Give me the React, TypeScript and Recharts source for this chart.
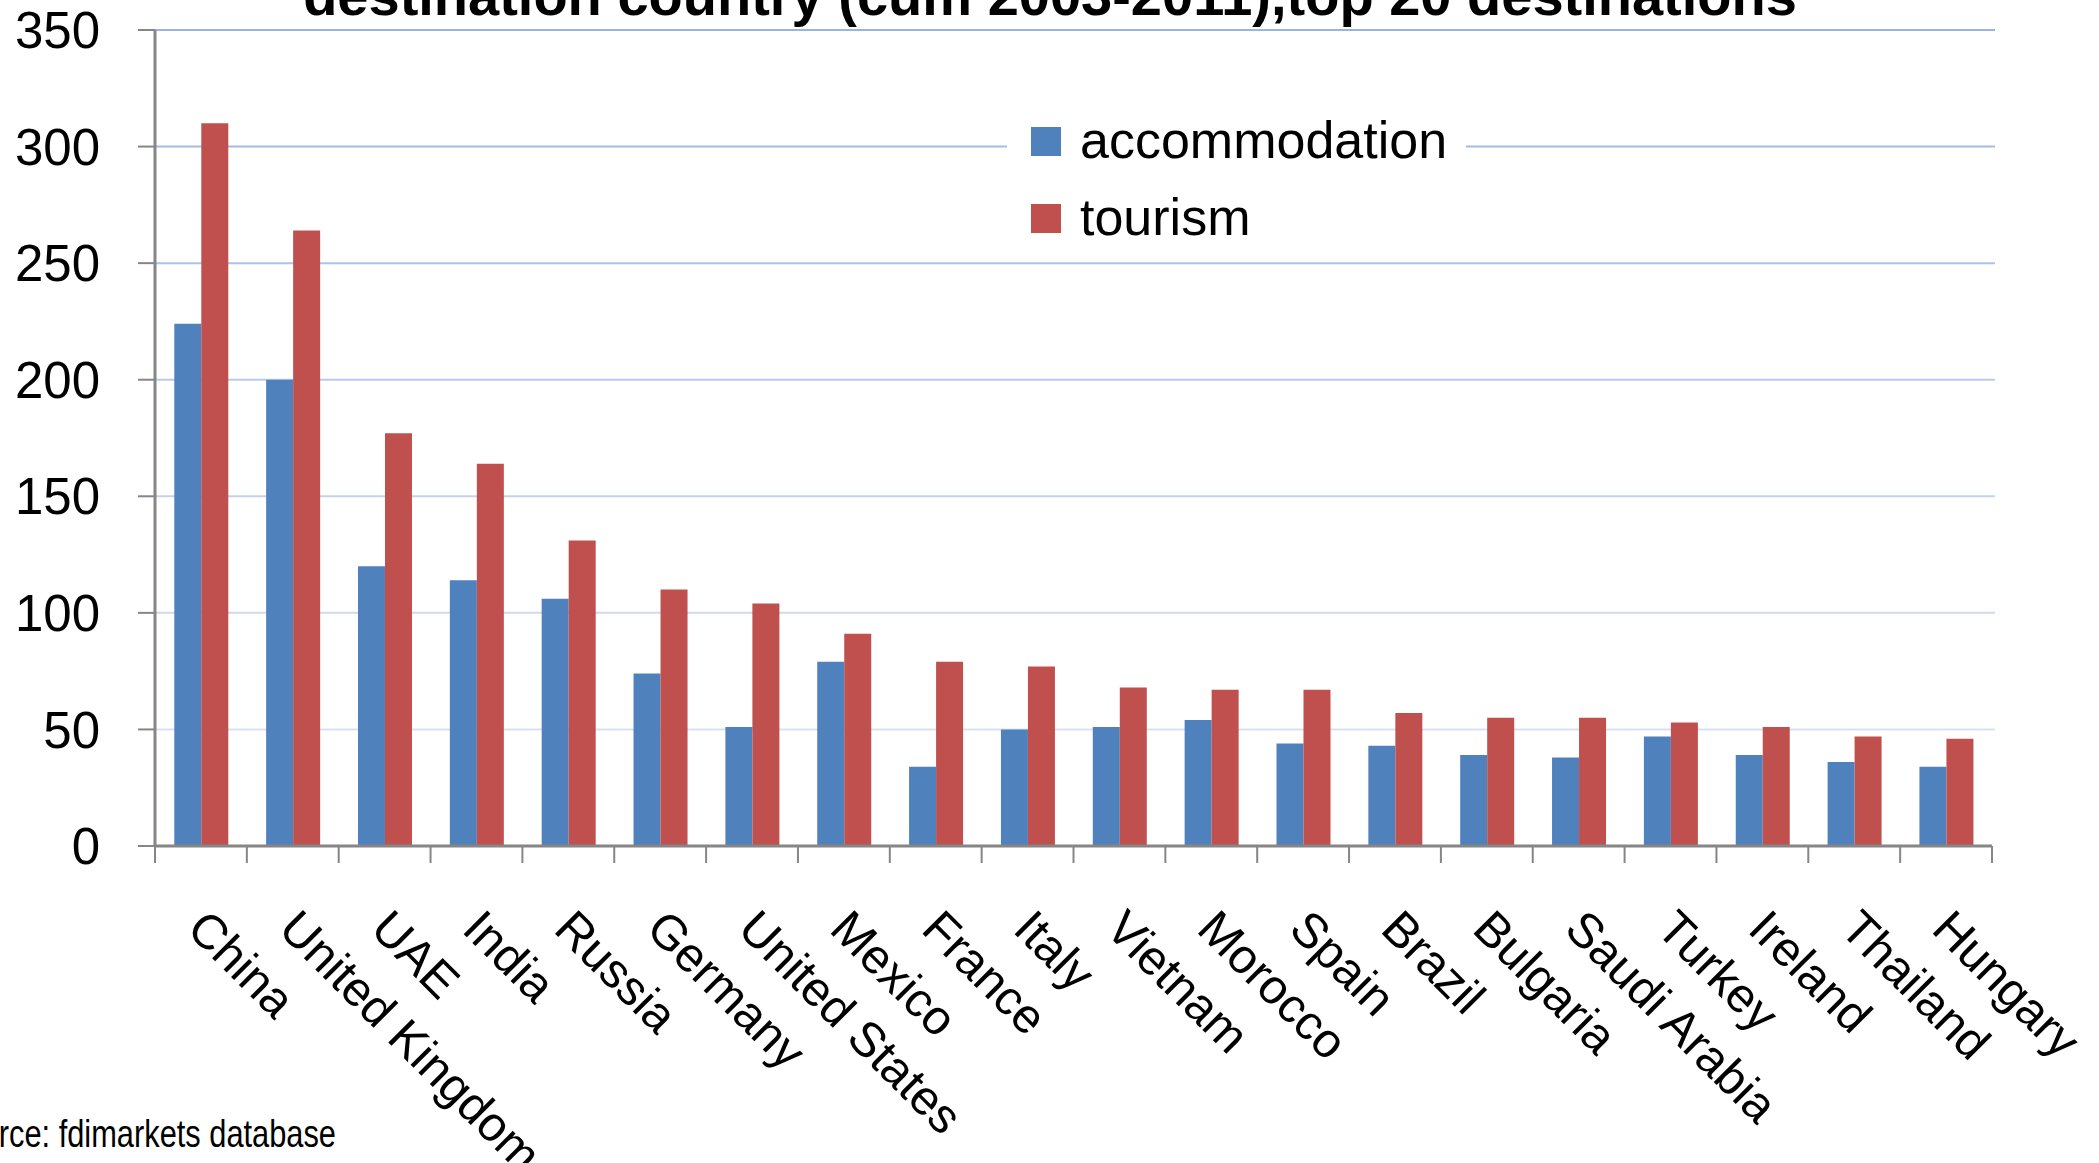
import React from "react"
import { BarChart, Bar, XAxis, YAxis, CartesianGrid, Legend } from "recharts"

const countries = [
  "China", "United Kingdom", "UAE", "India", "Russia", "Germany", "United States", "Mexico", "France", "Italy",
  "Vietnam", "Morocco", "Spain", "Brazil", "Bulgaria", "Saudi Arabia", "Turkey", "Ireland", "Thailand", "Hungary",
]
const accommodation = [224, 200, 120, 114, 106, 74, 51, 79, 34, 50, 51, 54, 44, 43, 39, 38, 47, 39, 36, 34]
const tourism = [310, 264, 177, 164, 131, 110, 104, 91, 79, 77, 68, 67, 67, 57, 55, 55, 53, 51, 47, 46]
const yTicks = [0, 50, 100, 150, 200, 250, 300, 350]

const titleText = "destination country (cum 2003-2011),top 20 destinations"
const sourceText = "Source: fdimarkets database"

const data = countries.map((name, i) => ({ name, accommodation: accommodation[i], tourism: tourism[i] }))

const W = 2099
const H = 1163
const PLOT_LEFT = 155
const PLOT_RIGHT = 1992
const PLOT_TOP = 30
const PLOT_BOTTOM = 846
const BAND = (PLOT_RIGHT - PLOT_LEFT) / countries.length
const FONT = "'Liberation Sans', Arial, sans-serif"
const AXIS = "#868686"

// excel-ish grid: stronger blue on top, fading out towards the baseline
const gridColor = (y: number) => {
  const t = Math.max(0, Math.min(1, (y - PLOT_TOP) / (PLOT_BOTTOM - PLOT_TOP)))
  const a = [152, 180, 227]
  const b = [226, 233, 246]
  const c = a.map((v, k) => Math.round(v + (b[k] - v) * t))
  return `rgb(${c[0]},${c[1]},${c[2]})`
}

const GridLine = (props: any) => {
  const { x1, x2, y1 } = props
  if (Math.abs(y1 - PLOT_BOTTOM) < 2) return <g />
  return <line x1={x1} x2={x2 + 3} y1={y1} y2={y1} stroke={gridColor(y1)} strokeWidth={2} />
}

const CountryTick = (props: any) => {
  const { x, y, payload, index } = props
  const left = x - BAND / 2
  const tx = x - 16
  const ty = y + 85
  return (
    <g>
      <line x1={left} x2={left} y1={y} y2={y + 17} stroke={AXIS} strokeWidth={2} />
      {index === countries.length - 1 && (
        <line x1={x + BAND / 2} x2={x + BAND / 2} y1={y} y2={y + 17} stroke={AXIS} strokeWidth={2} />
      )}
      <text
        x={tx}
        y={ty}
        transform={`rotate(45, ${tx}, ${ty})`}
        textAnchor="start"
        fontFamily={FONT}
        fontSize={48.5}
        fill="#000"
      >
        {payload.value}
      </text>
    </g>
  )
}

const LegendBox = (props: any) => {
  const { payload = [] } = props
  return (
    <svg width={459} height={150} style={{ display: "block" }}>
      <rect x={0} y={0} width={459} height={150} fill="#fff" />
      {payload.map((entry: any, i: number) => (
        <g key={entry.value}>
          <rect x={24} y={27 + i * 77} width={30} height={29} fill={entry.color} />
          <text x={73} y={58 + i * 77} fontFamily={FONT} fontSize={52} fill="#000">
            {entry.value}
          </text>
        </g>
      ))}
    </svg>
  )
}

export default function App() {
  return (
    <div style={{ position: "absolute", left: 0, top: 0, width: W, height: H, background: "#fff" }}>
      <BarChart
        width={W}
        height={H}
        data={data}
        margin={{ top: PLOT_TOP, right: W - PLOT_RIGHT, bottom: 0, left: 0 }}
        barCategoryGap="21%"
        barGap={0}
      >
        <CartesianGrid vertical={false} horizontal={GridLine} />
        <XAxis
          dataKey="name"
          interval={0}
          height={H - PLOT_BOTTOM}
          tickSize={0}
          tickMargin={0}
          tick={CountryTick}
          axisLine={{ stroke: AXIS, strokeWidth: 3 }}
        />
        <YAxis
          width={PLOT_LEFT}
          domain={[0, 350]}
          ticks={yTicks}
          interval={0}
          tickSize={17}
          tickMargin={38}
          axisLine={{ stroke: AXIS, strokeWidth: 3 }}
          tickLine={{ stroke: AXIS, strokeWidth: 2 }}
          tick={{ fontFamily: FONT, fontSize: 51, fill: "#000" }}
        />
        <Legend
          layout="horizontal"
          align="center"
          verticalAlign="middle"
          content={LegendBox}
          wrapperStyle={{ left: 1007, top: 100, width: 459, height: 150 }}
        />
        <Bar dataKey="accommodation" name="accommodation" fill="#4F81BD" isAnimationActive={false} />
        <Bar dataKey="tourism" name="tourism" fill="#C0504D" isAnimationActive={false} />
      </BarChart>
      <svg
        width={W}
        height={H}
        style={{ position: "absolute", left: 0, top: 0, pointerEvents: "none" }}
      >
        <text x={1050} y={15} textAnchor="middle" fontFamily={FONT} fontWeight="bold" fontSize={56} fill="#000">
          {titleText}
        </text>
        {/* narrow face isn't installed, squeeze the regular one instead */}
        <text
          transform="translate(336, 1147) scale(0.8, 1)"
          x={0}
          y={0}
          textAnchor="end"
          fontFamily={FONT}
          fontSize={38.5}
          fill="#000"
        >
          {sourceText}
        </text>
      </svg>
    </div>
  )
}
